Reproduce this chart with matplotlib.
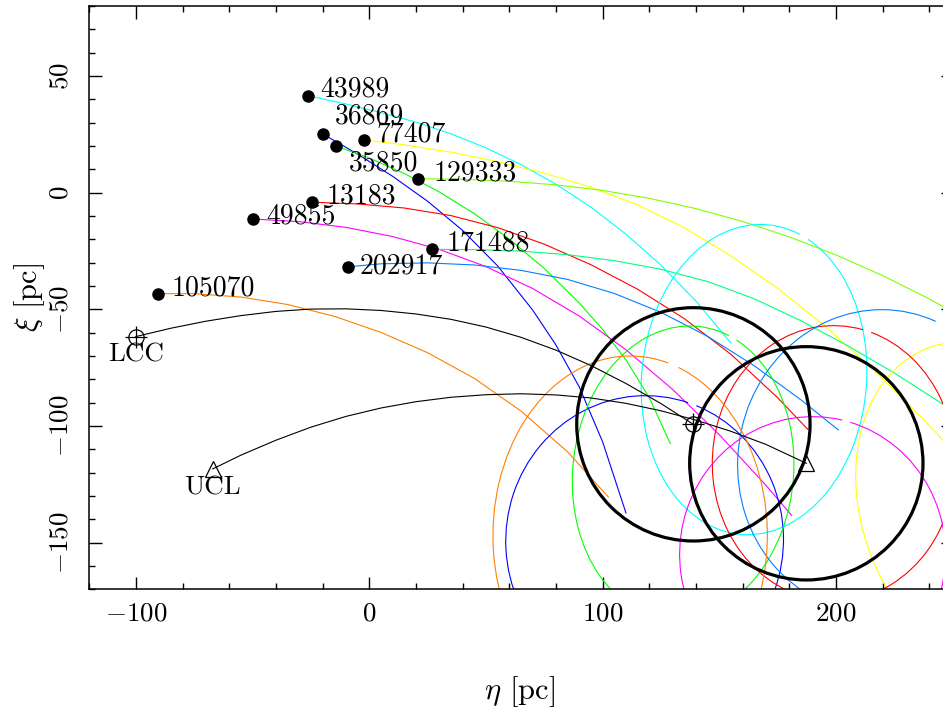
import numpy as np
import matplotlib
matplotlib.use("Agg")
import matplotlib.pyplot as plt
from matplotlib.patches import Arc, Circle
from matplotlib.ticker import MultipleLocator

plt.rcParams['font.family'] = 'cmr10'
plt.rcParams['mathtext.fontset'] = 'cm'
plt.rcParams['axes.formatter.use_mathtext'] = True

# ---- stars: start position (filled dot) and label ----
star_ids = ['43989', '36869', '77407', '35850', '129333',
            '13183', '49855', '171488', '202917', '105070']
star_colors = ['#00ffff', '#0000ff', '#ffff00', '#00ff00', '#80ff00',
               '#ff0000', '#ff00ff', '#00ff80', '#0080ff', '#ff8000']
label_eta = [-21.1, -14.7, 3.2, -8.6, 27.4, -18.3, -44.0, 32.9, -4.0, -84.7]
label_xi = [41.1, 29.7, 21.9, 9.7, 5.4, -4.5, -13.4, -25.0, -34.6, -43.9]

# ---- traced orbits (eta, xi) in pc ----
track_eta = {
    '43989': [-26.4, -10, 5, 20, 35, 50, 65, 80, 95, 110, 125, 140, 155],
    '36869': [-20.0, -5, 10, 25, 40, 55, 70, 80, 90, 100, 110],
    '77407': [-2.3, 15, 35, 55, 75, 95, 115, 135, 155, 175, 195, 215, 235, 252],
    '35850': [-14.3, 0, 15, 30, 45, 60, 75, 90, 100, 110, 120, 129],
    '129333': [21.0, 40, 60, 80, 100, 120, 140, 160, 180, 200, 220, 240, 252],
    '13183': [-24.7, -5, 15, 35, 55, 75, 95, 115, 135, 155, 175, 188],
    '49855': [-49.7, -30, -10, 10, 30, 50, 70, 90, 110, 130, 150, 170, 181],
    '171488': [26.7, 45, 65, 85, 105, 125, 145, 165, 185, 205, 225, 245, 252],
    '202917': [-9.3, 5, 25, 45, 65, 85, 105, 125, 145, 165, 185, 201],
    '105070': [-90.7, -75, -55, -35, -15, 5, 25, 45, 65, 85, 102.5],
}
track_xi = {
    '43989': [41.6, 38.0, 34.3, 30.2, 25.2, 19.2, 12.0, 3.6, -6.2, -17.8, -31.1, -46.5, -64.5],
    '36869': [25.2, 16.5, 7.0, -3.7, -16.2, -31.4, -50.3, -65.3, -83.3, -106.8, -137.3],
    '77407': [22.6, 20.5, 17.35, 13.3, 8.35, 2.35, -5.25, -15.05, -27.1, -41.05,
              -56.95, -74.95, -94.65, -112.5],
    '35850': [20.0, 14.8, 8.2, 0.3, -9.0, -19.9, -32.5, -47.3, -58.65, -71.65, -87.9, -107.5],
    '129333': [6.0, 5.7, 4.85, 3.35, 0.95, -2.45, -6.85, -12.35, -18.95, -26.7,
               -35.55, -45.55, -52.15],
    '13183': [-4.1, -4.84, -6.59, -9.84, -14.99, -22.09, -30.89, -41.39, -53.99,
              -69.29, -87.89, -101.5],
    '49855': [-11.3, -12.43, -14.88, -18.81, -24.34, -31.69, -41.09, -52.89, -67.34,
              -84.34, -103.74, -125.44, -138.3],
    '171488': [-24.3, -24.4, -25.05, -26.6, -29.15, -32.85, -38.1, -45.5, -54.9,
               -65.6, -77.3, -90.1, -94.9],
    '202917': [-31.8, -30.5, -30.1, -31.0, -33.3, -37.2, -43.2, -51.3, -61.6, -74.2,
               -88.8, -101.7],
    '105070': [-43.3, -43.3, -44.75, -47.95, -53.0, -59.9, -68.6, -79.6, -93.6,
               -111.1, -130.5],
}

# ---- error ellipses: centre, full width, full height, tilt (deg) ----
ell_ids = ['43989', '36869', '77407', '35850', '13183', '49855', '202917', '105070']
ell_eta = [164.9, 118.0, 265.0, 134.5, 199.0, 190.0, 218.0, 111.8]
ell_xi = [-80.1, -149.0, -135.0, -120.0, -116.0, -155.0, -115.0, -147.0]
ell_w = [96.4, 119.0, 108.0, 94.6, 104.0, 114.0, 120.0, 117.6]
ell_h = [133.2, 124.0, 146.0, 126.0, 118.0, 118.0, 130.0, 154.0]
ell_ang = [-5.0, -5.0, 20.0, -6.0, 0.0, 0.0, -10.0, 0.0]

# ---- association tracks (LCC, UCL) ----
lcc_eta = [-100.1, -85, -70, -55, -40, -25, -10, 5, 20, 35, 50, 65, 80, 95, 110, 125, 138.9]
lcc_xi = [-61.7, -58.1, -55.1, -52.7, -50.9, -49.9, -49.8, -50.5, -52.0, -54.3, -57.6,
          -62.0, -67.5, -74.1, -81.8, -90.4, -99.3]
ucl_eta = [-67.1, -55, -40, -25, -10, 5, 20, 35, 50, 65, 80, 95, 110, 125, 140, 155, 170, 187.3]
ucl_xi = [-118.4, -112.5, -106.1, -100.5, -95.9, -92.3, -89.6, -87.7, -86.6, -86.2,
          -86.7, -88.0, -90.3, -93.5, -97.5, -102.3, -107.9, -116.0]
group_radius = 50.0

W, H = 943, 711
fig = plt.figure(figsize=(W / 100, H / 100), dpi=100)
px = 2.3333  # pixels per pc
ax = fig.add_axes([89.3 / W, (H - 589.3) / H, 370 * px / W, 250 * px / H])
ax.set_xlim(-120, 250)
ax.set_ylim(-170, 80)

lw_thin = 0.8
color_of = dict(zip(star_ids, star_colors))

# orbits
for sid in star_ids:
    ax.plot(track_eta[sid], track_xi[sid], color=color_of[sid], lw=lw_thin,
            solid_joinstyle='round', zorder=2)

# ellipses, each drawn as an open arc with a small break near the top
gap_at, gap = 74.0, 3.5
for sid, cx, cy, w, h, a in zip(ell_ids, ell_eta, ell_xi, ell_w, ell_h, ell_ang):
    ax.add_patch(Arc((cx, cy), w, h, angle=a, theta1=gap_at + gap, theta2=gap_at + 360,
                     color=color_of[sid], lw=lw_thin, zorder=2))

# association tracks and present-day extent
ax.plot(lcc_eta, lcc_xi, color='black', lw=lw_thin, zorder=3)
ax.plot(ucl_eta, ucl_xi, color='black', lw=lw_thin, zorder=3)
for e, x in [(lcc_eta[-1], lcc_xi[-1]), (ucl_eta[-1], ucl_xi[-1])]:
    ax.add_patch(Circle((e, x), group_radius, fill=False, ec='black', lw=2.3, zorder=4))

# markers for LCC (circle-plus) and UCL (triangle)
for e, x in [(lcc_eta[0], lcc_xi[0]), (lcc_eta[-1], lcc_xi[-1])]:
    ax.plot(e, x, marker='o', ms=11, mfc='none', mec='black', mew=0.9, zorder=5)
    ax.plot(e, x, marker='+', ms=16, mec='black', mew=0.9, zorder=5)
for e, x in [(ucl_eta[0], ucl_xi[0]), (ucl_eta[-1], ucl_xi[-1])]:
    ax.plot(e, x, marker='^', ms=12, mfc='none', mec='black', mew=0.9, zorder=5)

ax.text(lcc_eta[0], -72.4, 'LCC', ha='center', va='baseline', fontsize=19.5)
ax.text(ucl_eta[0], -129.3, 'UCL', ha='center', va='baseline', fontsize=19.5)

# stars: start dots and labels
for sid, le, lx in zip(star_ids, label_eta, label_xi):
    ax.plot(track_eta[sid][0], track_xi[sid][0], 'o', color='black', ms=8, zorder=6)
    ax.text(le, lx, sid, ha='left', va='baseline', fontsize=20, zorder=7)

# frame and ticks
for sp in ax.spines.values():
    sp.set_linewidth(1.1)
ax.xaxis.set_major_locator(MultipleLocator(100))
ax.xaxis.set_minor_locator(MultipleLocator(20))
ax.yaxis.set_major_locator(MultipleLocator(50))
ax.yaxis.set_minor_locator(MultipleLocator(10))
ax.tick_params(which='both', direction='in', top=True, right=True, width=1.0,
               labelsize=19.5)
ax.tick_params(which='major', length=9)
ax.tick_params(which='minor', length=4.3)
ax.tick_params(axis='x', pad=9)
ax.tick_params(axis='y', pad=12, labelrotation=90)
plt.setp(ax.get_yticklabels(), va='center')

fig.text(520 / W, 1 - 692 / H, r'$\eta$ [pc]', ha='center', va='center', fontsize=22)
fig.text(30 / W, 1 - 297 / H, r'$\xi$ [pc]', ha='center', va='center',
         rotation=90, fontsize=22)

fig.savefig('out.png', dpi=100)
